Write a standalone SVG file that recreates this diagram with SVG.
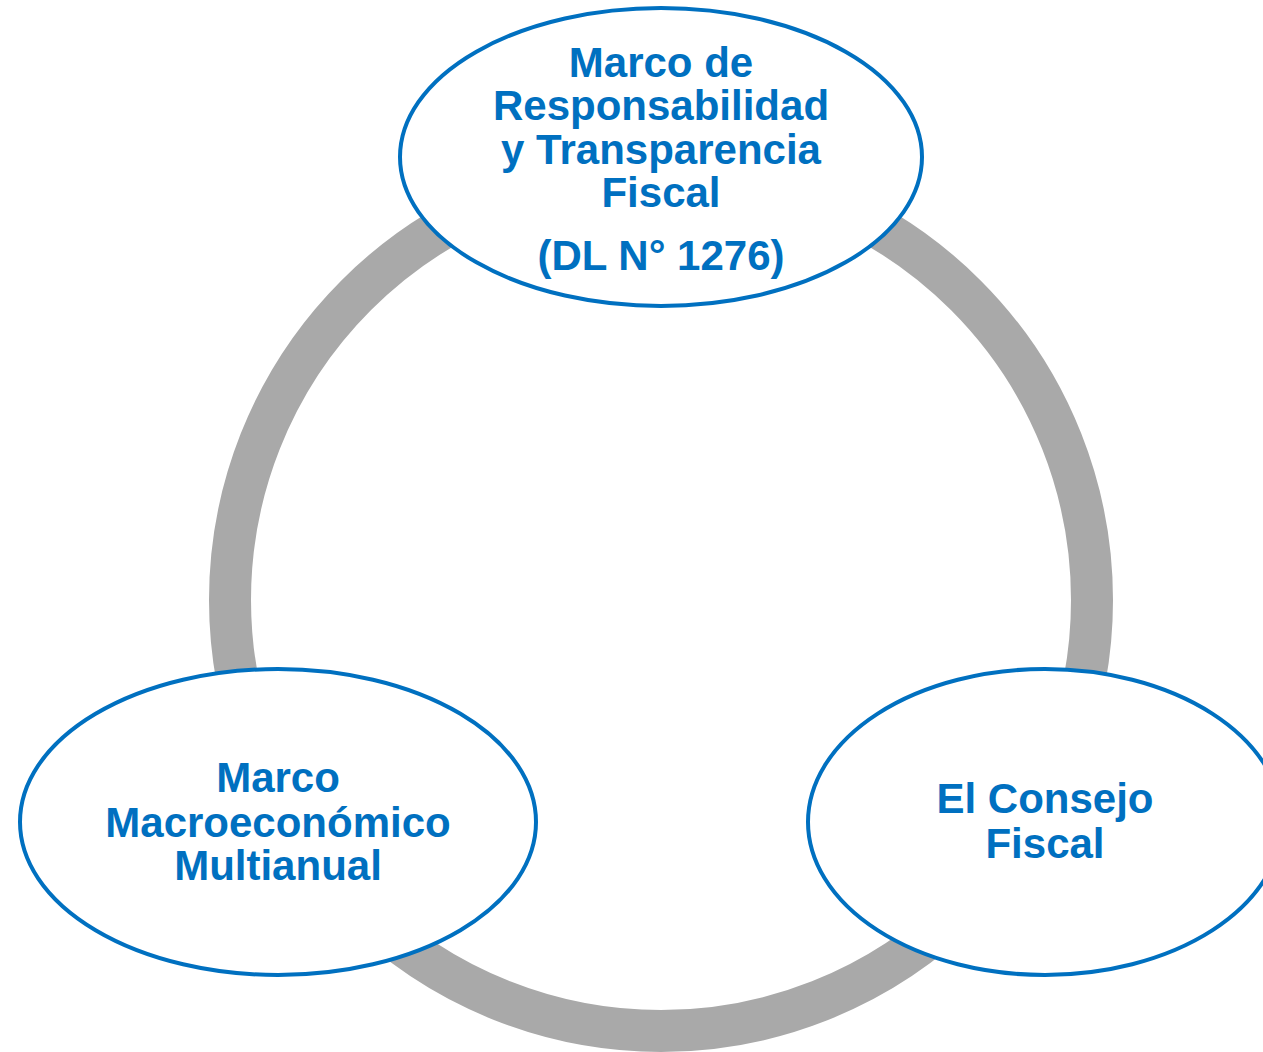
<svg xmlns="http://www.w3.org/2000/svg" width="1263" height="1052" viewBox="0 0 1263 1052">
<style>
.node{fill:#fff;stroke:#0070C0;stroke-width:4}
.lbl{font-family:"Liberation Sans",Arial,sans-serif;font-weight:bold;font-size:42px;fill:#0070C0;text-anchor:middle}
.ring{fill:none;stroke:#A9A9A9;stroke-width:42}
</style>
<rect width="1263" height="1052" fill="#fff"/>
<g id="connectors">
<circle class="ring" cx="661" cy="600" r="431"/>
</g>
<g id="node-top">
<ellipse class="node" cx="661" cy="157" rx="261" ry="149"/>
<text class="lbl"><tspan x="661" y="77">Marco de</tspan><tspan x="661" y="120">Responsabilidad</tspan><tspan x="661" y="164">y Transparencia</tspan><tspan x="661" y="207">Fiscal</tspan><tspan x="661" y="270">(DL N° 1276)</tspan></text>
</g>
<g id="node-left">
<ellipse class="node" cx="278" cy="822" rx="258" ry="153"/>
<text class="lbl"><tspan x="278" y="792">Marco</tspan><tspan x="278" y="837">Macroeconómico</tspan><tspan x="278" y="880">Multianual</tspan></text>
</g>
<g id="node-right">
<ellipse class="node" cx="1045" cy="822" rx="237" ry="153"/>
<text class="lbl"><tspan x="1045" y="813">El Consejo</tspan><tspan x="1045" y="858">Fiscal</tspan></text>
</g>
</svg>
